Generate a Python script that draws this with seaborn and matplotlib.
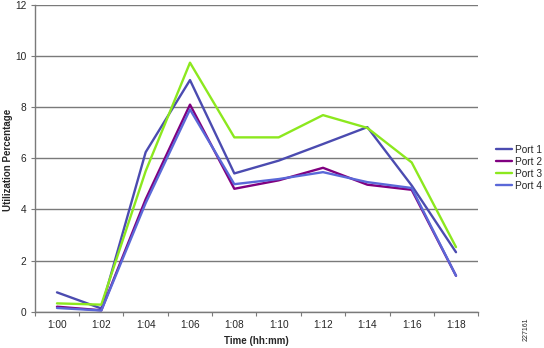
import matplotlib
matplotlib.use("Agg")
import matplotlib.pyplot as plt
import seaborn as sns
import pandas as pd
import numpy as np

times = ["1:00", "1:02", "1:04", "1:06", "1:08", "1:10", "1:12", "1:14", "1:16", "1:18"]
port1 = [0.76, 0.13, 6.24, 9.06, 5.41, 5.91, 6.56, 7.22, 4.94, 2.33]
port2 = [0.20, 0.06, 4.40, 8.10, 4.81, 5.14, 5.63, 4.97, 4.77, 1.41]
port3 = [0.33, 0.28, 5.50, 9.74, 6.82, 6.82, 7.69, 7.19, 5.84, 2.53]
port4 = [0.15, 0.05, 4.25, 7.91, 4.99, 5.19, 5.46, 5.07, 4.84, 1.41]
ports = ["Port 1", "Port 2", "Port 3", "Port 4"]
colors = ["#4B4BB0", "#800080", "#8CE81E", "#5A68D8"]

df = pd.DataFrame({
    "Time (hh:mm)": times * 4,
    "Utilization Percentage": port1 + port2 + port3 + port4,
    "Port": [p for p in ports for _ in times],
})

sns.set_style("white")
plt.rcParams["font.family"] = ["Liberation Sans", "DejaVu Sans"]

fig = plt.figure(figsize=(5.44, 3.48), dpi=100)
ax = fig.add_axes([0.064, 0.104, 0.815, 0.882])

sns.lineplot(data=df, x="Time (hh:mm)", y="Utilization Percentage", hue="Port",
             palette=colors, linewidth=1.7, sort=False, ax=ax, legend=True)

ax.set_xlim(-0.5, len(times) - 0.5)
ax.set_ylim(0, 12)
ax.set_yticks(np.arange(0, 13, 2))
ax.yaxis.grid(True, color="#7a7a7a", linewidth=1.0)
ax.set_axisbelow(True)

ax.set_xticks(range(len(times)))
ax.set_xticklabels(times)
ax.set_xticks(np.arange(-0.5, len(times), 1.0), minor=True)
ax.tick_params(axis="x", which="major", length=0, labelsize=7.3, pad=6)
ax.tick_params(axis="x", which="minor", length=3, width=0.8, color="#7a7a7a", direction="out", bottom=True)
ax.tick_params(axis="y", length=3, width=0.8, color="#7a7a7a", labelsize=7.3, left=True, pad=3)

for side in ["top", "right"]:
    ax.spines[side].set_visible(False)
for side in ["left", "bottom"]:
    ax.spines[side].set_color("#7a7a7a")
    ax.spines[side].set_linewidth(1.0)

ax.set_xlabel("Time (hh:mm)", fontsize=7, fontweight="bold", labelpad=4)
ax.set_ylabel("Utilization Percentage", fontsize=7, fontweight="bold")
ax.yaxis.set_label_coords(-0.05, 0.495)

handles, labels = ax.get_legend_handles_labels()
ax.legend(handles, labels, loc="center left", bbox_to_anchor=(1.04, 0.47),
          frameon=False, fontsize=7.3, handlelength=1.55, handletextpad=0.35,
          labelspacing=0.2, borderaxespad=0, borderpad=0)

fig.text(0.968, 0.055, "227161", rotation=90, fontsize=5, ha="center", va="center")

fig.savefig("out.png", dpi=100)
